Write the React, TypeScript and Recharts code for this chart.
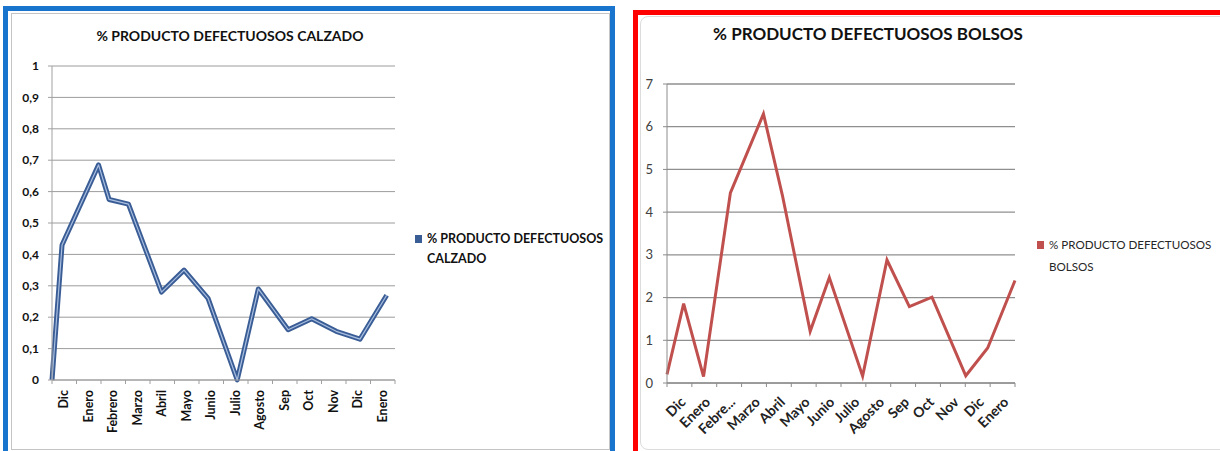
import React from "react";
import { LineChart, Line, XAxis, YAxis, CartesianGrid } from "recharts";

// ---------- DATA ----------
const calzadoMonths = ["Dic", "Enero", "Febrero", "Marzo", "Abril", "Mayo", "Junio", "Julio", "Agosto", "Sep", "Oct", "Nov", "Dic", "Enero"];
const calzadoPeriod = [0, 0.41, 1.9, 2.33, 3.12, 4.47, 5.39, 6.37, 7.56, 8.42, 9.64, 10.6, 11.6, 12.57, 13.66];
const calzadoValues = [0, 0.43, 0.685, 0.575, 0.56, 0.28, 0.35, 0.26, 0.0, 0.29, 0.16, 0.195, 0.155, 0.13, 0.27];
const calzadoYTicks = [0, 0.1, 0.2, 0.3, 0.4, 0.5, 0.6, 0.7, 0.8, 0.9, 1];

const bolsosMonths = ["Dic", "Enero", "Febre...", "Marzo", "Abril", "Mayo", "Junio", "Julio", "Agosto", "Sep", "Oct", "Nov", "Dic", "Enero"];
const bolsosPeriod = [0, 0.67, 1.47, 2.55, 3.88, 4.64, 5.76, 6.53, 7.87, 8.85, 9.75, 10.66, 12.02, 12.9, 14.0];
const bolsosValues = [0.2, 1.86, 0.15, 4.45, 6.3, 4.4, 1.21, 2.47, 0.16, 2.88, 1.79, 2.01, 0.17, 0.82, 2.4];
const bolsosYTicks = [0, 1, 2, 3, 4, 5, 6, 7];

const calzadoData = calzadoPeriod.map((p, i) => ({ p, v: calzadoValues[i] }));
const bolsosData = bolsosPeriod.map((p, i) => ({ p, v: bolsosValues[i] }));

const bandTicks = (n: number) => {
  const t: number[] = [];
  for (let i = 0; i <= n; i++) t.push(i);
  for (let i = 0; i < n; i++) t.push(i + 0.5);
  return t.sort((a, b) => a - b);
};

const FONT = "Lato, 'Open Sans', sans-serif";

const makeTick = (labels: string[], mode: "left" | "right") => (props: any) => {
  const { x, y, payload } = props;
  const v = payload.value as number;
  if (Number.isInteger(v)) {
    return <line x1={x} y1={y} x2={x} y2={y + 4} stroke={mode === "left" ? "#a0a0a0" : "#8c8c8c"} strokeWidth={1} />;
  }
  const label = labels[Math.floor(v)];
  if (mode === "left") {
    return (
      <text x={x + 4} y={y + 10} transform={`rotate(-90 ${x + 4} ${y + 10})`} textAnchor="end"
        fontFamily={FONT} fontWeight={700} fontSize={12.5} fill="#111">
        {label}
      </text>
    );
  }
  return (
    <text x={x + 7} y={y + 20} transform={`rotate(-45 ${x + 7} ${y + 20})`} textAnchor="end"
      fontFamily={FONT} fontWeight={700} fontSize={14} fill="#222">
      {label}
    </text>
  );
};

export default function App() {
  return (
    <div style={{ position: "absolute", left: 0, top: 0, width: 1220, height: 451, overflow: "hidden", background: "#fff" }}>
      {/* Left panel frame */}
      <div style={{ position: "absolute", left: 3, top: 6, width: 602, height: 460, border: "5px solid #1874cd" }} />
      <div style={{ position: "absolute", left: 11, top: 13, width: 597, height: 435, border: "1px solid #c4c4c4" }} />
      {/* Right panel frame */}
      <div style={{ position: "absolute", left: 633, top: 10, width: 600, height: 460, border: "5px solid #ff0000" }} />
      <div style={{ position: "absolute", left: 640, top: 16, width: 600, height: 432, border: "1px solid #dcdcdc", borderRadius: 8 }} />

      {/* Left chart */}
      <div style={{ position: "absolute", left: 0, top: 0 }}>
        <LineChart width={612} height={451} data={calzadoData} margin={{ top: 66, right: 217, bottom: 11, left: 0 }}>
          <CartesianGrid vertical={false} stroke="#9c9c9c" strokeWidth={1} />
          <XAxis dataKey="p" type="number" domain={[0, 14]} ticks={bandTicks(14)} interval={0}
            tick={makeTick(calzadoMonths, "left")} tickLine={false} tickSize={0} tickMargin={0}
            axisLine={{ stroke: "#a0a0a0" }} height={60} />
          <YAxis type="number" domain={[0, 1]} ticks={calzadoYTicks} interval={0} width={52}
            tickSize={4} tickMargin={9} axisLine={{ stroke: "#a0a0a0" }} tickLine={{ stroke: "#a0a0a0" }}
            tickFormatter={(v: number) => String(Math.round(v * 10) / 10).replace(".", ",")}
            tick={{ fontFamily: FONT, fontWeight: 700, fontSize: 12, fill: "#111" }} />
          <Line type="linear" dataKey="v" stroke="#3a5d96" strokeWidth={5} dot={false} isAnimationActive={false} strokeLinejoin="round" />
          <Line type="linear" dataKey="v" stroke="#a9bfe0" strokeWidth={1.2} dot={false} isAnimationActive={false} legendType="none" strokeLinejoin="round" />
        </LineChart>
      </div>
      <div style={{ position: "absolute", left: 60, width: 340, top: 27, textAlign: "center", fontFamily: FONT, fontWeight: 700, fontSize: 14, color: "#111", whiteSpace: "nowrap" }}>
        % PRODUCTO DEFECTUOSOS CALZADO
      </div>
      <div style={{ position: "absolute", left: 415, top: 229, fontFamily: FONT, fontWeight: 700, fontSize: 12.5, lineHeight: "20px", color: "#111", whiteSpace: "nowrap" }}>
        <span style={{ display: "inline-block", width: 7, height: 8, background: "#3a5d96", marginRight: 5 }} />
        % PRODUCTO DEFECTUOSOS
        <div style={{ paddingLeft: 12 }}>CALZADO</div>
      </div>

      {/* Right chart */}
      <div style={{ position: "absolute", left: 620, top: 0 }}>
        <LineChart width={600} height={451} data={bolsosData} margin={{ top: 84, right: 205, bottom: 8, left: 0 }}>
          <CartesianGrid vertical={false} stroke="#8f8f8f" strokeWidth={1.3} />
          <XAxis dataKey="p" type="number" domain={[0, 14]} ticks={bandTicks(14)} interval={0}
            tick={makeTick(bolsosMonths, "right")} tickLine={false} tickSize={0} tickMargin={0}
            axisLine={{ stroke: "#8c8c8c" }} height={60} />
          <YAxis type="number" domain={[0, 7]} ticks={bolsosYTicks} interval={0} width={47}
            tickSize={4} tickMargin={10} axisLine={{ stroke: "#8c8c8c" }} tickLine={{ stroke: "#8c8c8c" }}
            tick={{ fontFamily: FONT, fontSize: 13, fill: "#404040" }} />
          <Line type="linear" dataKey="v" stroke="#c0504d" strokeWidth={3} dot={false} isAnimationActive={false} />
        </LineChart>
      </div>
      <div style={{ position: "absolute", left: 690, width: 356, top: 23, textAlign: "center", fontFamily: FONT, fontWeight: 700, fontSize: 17, color: "#111", whiteSpace: "nowrap" }}>
        % PRODUCTO DEFECTUOSOS BOLSOS
      </div>
      <div style={{ position: "absolute", left: 1037, top: 234, fontFamily: FONT, fontSize: 11.6, lineHeight: "22px", color: "#262626", whiteSpace: "nowrap" }}>
        <span style={{ display: "inline-block", width: 7, height: 8, background: "#c0504d", marginRight: 5 }} />
        % PRODUCTO DEFECTUOSOS
        <div style={{ paddingLeft: 12 }}>BOLSOS</div>
      </div>
    </div>
  );
}
